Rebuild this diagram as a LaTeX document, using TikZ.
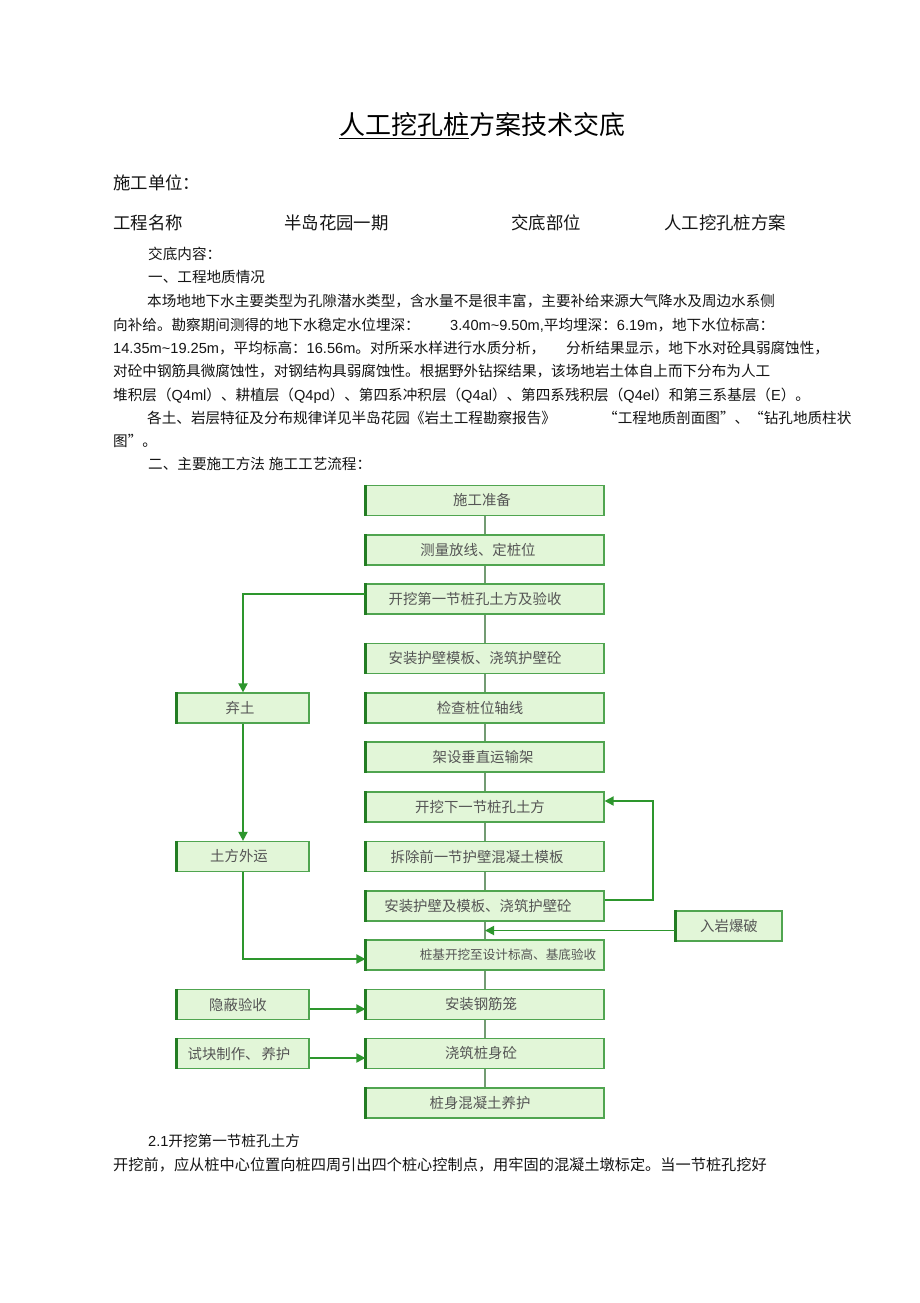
\documentclass[tikz,border=0pt]{standalone}
\usepackage{fontspec}
\setmainfont{Noto Sans CJK SC}
\newfontfamily\lat{Liberation Sans}
\usetikzlibrary{arrows.meta,calc}
\definecolor{boxfill}{RGB}{226,246,216}
\definecolor{boxedge}{RGB}{80,165,80}
\definecolor{edgedark}{RGB}{35,125,35}
\definecolor{flowline}{RGB}{115,155,115}
\definecolor{branch}{RGB}{45,150,45}
\definecolor{boxtext}{RGB}{85,85,85}
\definecolor{bodytext}{RGB}{20,20,20}
\begin{document}
\begin{tikzpicture}[x=1pt,y=-1pt,
  box/.style={draw=boxedge, line width=1.2pt, fill=boxfill, inner sep=0pt, text=boxtext,
              font=\fontsize{14.4}{16}\selectfont, minimum height=30pt},
  mainbox/.style={box, minimum width=238pt},
  sidebox/.style={box, minimum width=132pt},
  flow/.style={draw=flowline, line width=1.2pt},
  branchline/.style={draw=branch, line width=1.8pt},
  brancharrow/.style={branchline, -{Triangle[length=9pt,width=9pt]}},
  txt/.style={anchor=base west, inner sep=0pt, text=bodytext, font=\fontsize{14.6}{17}\selectfont},
  hdr/.style={anchor=base west, inner sep=0pt, text=bodytext, font=\fontsize{17.4}{20}\selectfont},
]
\path[fill=white,use as bounding box] (0,0) rectangle (920,1303);

% ---------- title ----------
\node[anchor=base west, inner sep=0pt, font=\fontsize{26}{30}\selectfont] (ta) at (339,135) {人工挖孔桩};
\node[anchor=base west, inner sep=0pt, font=\fontsize{26}{30}\selectfont] (tb) at (ta.base east) {方案技术交底};
\draw[line width=1pt] ([yshift=-3.5pt]ta.base west) -- ([yshift=-3.5pt]ta.base east);

% ---------- header ----------
\node[hdr] (h1) at (113,189.5) {施工单位：};
\node[hdr] (h2) at (113,229.5) {工程名称};
\node[hdr] (h3) at (284,229.5) {半岛花园一期};
\node[hdr] (h4) at (511,229.5) {交底部位};
\node[hdr] (h5) at (664,229.5) {人工挖孔桩方案};

% ---------- body ----------
\node[txt] (l1) at (148,259.5) {交底内容：};
\node[txt] (l2) at (148,282.5) {一、工程地质情况};
\node[txt] (l3) at (147,306.5) {本场地地下水主要类型为孔隙潜水类型，含水量不是很丰富，主要补给来源大气降水及周边水系侧};
\node[txt] (l4a) at (113,330) {向补给。勘察期间测得的地下水稳定水位埋深：};
\node[txt] (l4b) at (450,330) {{\lat 3.40m\textasciitilde 9.50m,}平均埋深：{\lat 6.19m}，地下水位标高：};
\node[txt] (l5a) at (113,353.5) {{\lat 14.35m\textasciitilde 19.25m}，平均标高：{\lat 16.56m}。对所采水样进行水质分析，};
\node[txt] (l5b) at (566,353.5) {分析结果显示，地下水对砼具弱腐蚀性，};
\node[txt] (l6) at (113,376.5) {对砼中钢筋具微腐蚀性，对钢结构具弱腐蚀性。根据野外钻探结果，该场地岩土体自上而下分布为人工};
\node[txt] (l7) at (113,400) {堆积层（{\lat Q4ml}）、耕植层（{\lat Q4pd}）、第四系冲积层（{\lat Q4al}）、第四系残积层（{\lat Q4el}）和第三系基层（{\lat E}）。};
\node[txt] (l8a) at (147,423.5) {各土、岩层特征及分布规律详见半岛花园《岩土工程勘察报告》};
\node[txt] (l8b) at (603,423.5) {“工程地质剖面图”、“钻孔地质柱状};
\node[txt] (l9) at (113,446.5) {图”。};
\node[txt] (l10) at (148,469) {二、主要施工方法\hspace{4pt}施工工艺流程：};

\node[txt] (l11) at (148,1146.5) {{\lat 2.1}开挖第一节桩孔土方};
\node[txt,font=\fontsize{15.2}{17}\selectfont] (l12) at (113,1170.5) {开挖前，应从桩中心位置向桩四周引出四个桩心控制点，用牢固的混凝土墩标定。当一节桩孔挖好};

% ---------- flowchart: main column ----------
\node[mainbox] (b1) at (485,500.5) {施工准备\hspace*{6pt}};
\node[mainbox] (b2) at (485,550) {测量放线、定桩位\hspace*{14pt}};
\node[mainbox] (b3) at (485,599) {开挖第一节桩孔土方及验收\hspace*{20pt}};
\node[mainbox] (b4) at (485,658.5) {安装护壁模板、浇筑护壁砼\hspace*{20pt}};
\node[mainbox] (b5) at (485,708) {检查桩位轴线\hspace*{10pt}};
\node[mainbox] (b6) at (485,757) {架设垂直运输架\hspace*{4pt}};
\node[mainbox] (b7) at (485,807) {开挖下一节桩孔土方\hspace*{10pt}};
\node[mainbox] (b8) at (485,856.5) {拆除前一节护壁混凝土模板\hspace*{16pt}};
\node[mainbox] (b9) at (485,906) {安装护壁及模板、浇筑护壁砼\hspace*{14pt}};
\node[mainbox,font=\fontsize{12.6}{14}\selectfont] (b10) at (485,955) {\hspace*{46pt}桩基开挖至设计标高、基底验收};
\node[mainbox] (b11) at (485,1004.5) {安装钢筋笼\hspace*{8pt}};
\node[mainbox] (b12) at (485,1053.5) {浇筑桩身砼\hspace*{8pt}};
\node[mainbox] (b13) at (485,1103) {桩身混凝土养护\hspace*{10pt}};

% ---------- side boxes ----------
\node[sidebox] (qt) at (243,708) {弃土\hspace*{6pt}};
\node[sidebox] (tf) at (243,856.5) {土方外运\hspace*{8pt}};
\node[sidebox] (yb) at (243,1004.5) {隐蔽验收\hspace*{10pt}};
\node[sidebox] (sk) at (243,1053.5) {试块制作、\hspace{2pt}养护\hspace*{8pt}};
\node[box, minimum width=106pt] (ry) at (729,926) {入岩爆破};

% darker left edges of boxes
\foreach \n in {b1,b2,b3,b4,b5,b6,b7,b8,b9,b10,b11,b12,b13,qt,tf,yb,sk,ry}
  \draw[edgedark, line width=2.2pt] (\n.north west) -- (\n.south west);

% ---------- main connectors ----------
\foreach \a/\b in {b1/b2,b2/b3,b3/b4,b4/b5,b5/b6,b6/b7,b7/b8,b8/b9,b9/b10,b10/b11,b11/b12,b12/b13}
  \draw[flow] (\a.south) -- (\b.north);

\coordinate (rj) at ($(b9.south)!0.5!(b10.north)$);

% ---------- branch connectors ----------
\draw[brancharrow] ([yshift=5pt]b3.west) -| (qt.north);
\draw[brancharrow] (qt.south) -- (tf.north);
\draw[brancharrow] (tf.south) |- ([yshift=-4pt]b10.west);
\draw[brancharrow] ([yshift=-4.5pt]yb.east) -- ([yshift=-4.5pt]b11.west);
\draw[brancharrow] ([yshift=-4.5pt]sk.east) -- ([yshift=-4.5pt]b12.west);
\draw[brancharrow] ([yshift=6pt]b9.east) -- ++(48,0) |- ([yshift=6pt]b7.east);
\draw[brancharrow] (rj -| ry.west) -- (rj);
\end{tikzpicture}
\end{document}
